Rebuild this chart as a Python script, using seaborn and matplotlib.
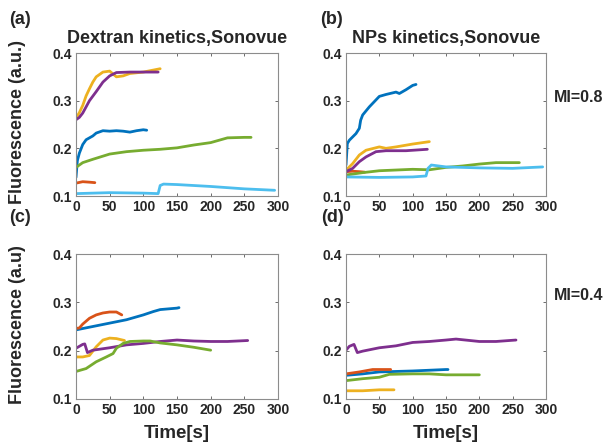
import numpy as np
import pandas as pd
import matplotlib
matplotlib.use("Agg")
import matplotlib.pyplot as plt
import seaborn as sns

# ---------------- data ----------------
# Panel (a): Dextran kinetics, MI=0.8
a_blue_t = [0, 2, 5, 10, 15, 20, 25, 30, 40, 50, 60, 70, 80, 90, 100, 105]
a_blue_y = [0.139, 0.174, 0.190, 0.208, 0.218, 0.222, 0.226, 0.232, 0.237, 0.236, 0.237, 0.236, 0.234, 0.237, 0.239, 0.238]
a_orange_t = [0, 10, 20, 28]
a_orange_y = [0.127, 0.130, 0.129, 0.128]
a_yellow_t = [0, 5, 10, 15, 20, 25, 30, 40, 50, 60, 70, 80, 100, 125]
a_yellow_y = [0.263, 0.275, 0.290, 0.310, 0.325, 0.339, 0.350, 0.360, 0.362, 0.350, 0.352, 0.357, 0.360, 0.367]
a_purple_t = [0, 5, 10, 20, 30, 40, 50, 60, 80, 100, 122]
a_purple_y = [0.260, 0.265, 0.274, 0.300, 0.319, 0.339, 0.352, 0.359, 0.360, 0.360, 0.360]
a_green_t = [0, 10, 25, 50, 75, 100, 125, 150, 175, 200, 225, 250, 260]
a_green_y = [0.160, 0.170, 0.177, 0.188, 0.193, 0.196, 0.198, 0.201, 0.207, 0.212, 0.222, 0.223, 0.223]
a_cyan_t = [0, 50, 100, 122, 125, 130, 150, 200, 250, 295]
a_cyan_y = [0.105, 0.107, 0.106, 0.105, 0.122, 0.125, 0.124, 0.120, 0.115, 0.112]

# Panel (b): NPs kinetics, MI=0.8
b_blue_t = [0, 2, 5, 10, 15, 20, 22, 25, 35, 50, 60, 75, 80, 90, 100, 105]
b_blue_y = [0.165, 0.210, 0.217, 0.224, 0.231, 0.242, 0.259, 0.270, 0.287, 0.309, 0.313, 0.318, 0.315, 0.323, 0.332, 0.334]
b_orange_t = [0, 10, 20, 28]
b_orange_y = [0.151, 0.152, 0.151, 0.150]
b_yellow_t = [0, 10, 20, 30, 50, 60, 75, 100, 125]
b_yellow_y = [0.154, 0.168, 0.186, 0.196, 0.203, 0.200, 0.203, 0.209, 0.214]
b_purple_t = [0, 10, 20, 30, 45, 60, 90, 122]
b_purple_y = [0.151, 0.158, 0.172, 0.182, 0.193, 0.195, 0.195, 0.198]
b_green_t = [0, 25, 50, 100, 125, 150, 175, 200, 225, 260]
b_green_y = [0.144, 0.149, 0.153, 0.156, 0.155, 0.160, 0.163, 0.167, 0.170, 0.170]
b_cyan_t = [0, 50, 100, 120, 123, 128, 150, 200, 250, 295]
b_cyan_y = [0.140, 0.139, 0.140, 0.142, 0.158, 0.165, 0.161, 0.159, 0.158, 0.161]

# Panel (c): Dextran kinetics, MI=0.4
c_blue_t = [0, 25, 50, 75, 100, 115, 125, 150, 153]
c_blue_y = [0.243, 0.250, 0.257, 0.264, 0.274, 0.281, 0.285, 0.288, 0.289]
c_orange_t = [0, 5, 10, 20, 30, 40, 50, 60, 68]
c_orange_y = [0.246, 0.247, 0.255, 0.267, 0.274, 0.278, 0.280, 0.280, 0.274]
c_yellow_t = [0, 10, 20, 30, 40, 50, 60, 72]
c_yellow_y = [0.187, 0.187, 0.190, 0.208, 0.222, 0.226, 0.225, 0.221]
c_purple_t = [0, 10, 13, 17, 25, 50, 75, 100, 125, 150, 175, 200, 225, 255]
c_purple_y = [0.205, 0.213, 0.214, 0.196, 0.201, 0.206, 0.212, 0.215, 0.219, 0.222, 0.220, 0.219, 0.219, 0.221]
c_green_t = [0, 15, 30, 45, 55, 60, 70, 80, 100, 110, 125, 150, 175, 200]
c_green_y = [0.157, 0.163, 0.177, 0.187, 0.194, 0.205, 0.215, 0.219, 0.220, 0.220, 0.216, 0.212, 0.207, 0.201]

# Panel (d): NPs kinetics, MI=0.4
d_blue_t = [0, 25, 50, 75, 100, 150, 153]
d_blue_y = [0.149, 0.152, 0.156, 0.157, 0.158, 0.161, 0.161]
d_orange_t = [0, 20, 40, 60, 67]
d_orange_y = [0.152, 0.156, 0.161, 0.161, 0.161]
d_yellow_t = [0, 25, 50, 72]
d_yellow_y = [0.117, 0.117, 0.119, 0.119]
d_purple_t = [0, 5, 12, 17, 25, 50, 75, 100, 125, 150, 165, 200, 225, 255]
d_purple_y = [0.201, 0.209, 0.213, 0.196, 0.199, 0.206, 0.210, 0.217, 0.219, 0.222, 0.224, 0.219, 0.219, 0.222]
d_green_t = [0, 25, 50, 65, 100, 125, 150, 200]
d_green_y = [0.138, 0.142, 0.145, 0.151, 0.152, 0.152, 0.150, 0.150]

x_ticks = [0, 50, 100, 150, 200, 250, 300]
y_ticks = [0.1, 0.2, 0.3, 0.4]
y_tick_labels = ["0.1", "0.2", "0.3", "0.4"]

colors = {"blue": "#0072BD", "orange": "#D95319", "yellow": "#EDB120",
          "purple": "#7E2F8E", "green": "#77AC30", "cyan": "#4DBEEE"}

panels = {
    "a": [("blue", a_blue_t, a_blue_y), ("orange", a_orange_t, a_orange_y),
          ("yellow", a_yellow_t, a_yellow_y), ("purple", a_purple_t, a_purple_y),
          ("green", a_green_t, a_green_y), ("cyan", a_cyan_t, a_cyan_y)],
    "b": [("blue", b_blue_t, b_blue_y), ("orange", b_orange_t, b_orange_y),
          ("yellow", b_yellow_t, b_yellow_y), ("purple", b_purple_t, b_purple_y),
          ("green", b_green_t, b_green_y), ("cyan", b_cyan_t, b_cyan_y)],
    "c": [("blue", c_blue_t, c_blue_y), ("orange", c_orange_t, c_orange_y),
          ("yellow", c_yellow_t, c_yellow_y), ("purple", c_purple_t, c_purple_y),
          ("green", c_green_t, c_green_y)],
    "d": [("blue", d_blue_t, d_blue_y), ("orange", d_orange_t, d_orange_y),
          ("yellow", d_yellow_t, d_yellow_y), ("purple", d_purple_t, d_purple_y),
          ("green", d_green_t, d_green_y)],
}

# ---------------- style ----------------
sns.set_theme(style="ticks")
plt.rcParams["font.family"] = ["Liberation Sans", "DejaVu Sans"]
plt.rcParams["font.weight"] = "bold"
plt.rcParams["axes.labelweight"] = "bold"
plt.rcParams["axes.titleweight"] = "bold"

W, H = 608, 445
fig = plt.figure(figsize=(W / 100, H / 100), dpi=100)

boxes = {  # left, top, right, bottom in pixels
    "a": (76, 53, 278, 196),
    "b": (346, 53, 546, 196),
    "c": (76, 254, 278, 399),
    "d": (346, 254, 546, 399),
}

axes = {}
for key, (l, t, r, b) in boxes.items():
    ax = fig.add_axes([l / W, 1 - b / H, (r - l) / W, (b - t) / H])
    axes[key] = ax
    rows = []
    for name, tt, yy in panels[key]:
        for i, (xv, yv) in enumerate(zip(tt, yy)):
            rows.append({"series": name, "t": xv, "y": yv, "i": i})
    df = pd.DataFrame(rows)
    for name, _, _ in panels[key]:
        sns.lineplot(data=df[df["series"] == name], x="t", y="y", color=colors[name],
                     linewidth=2.0, sort=False, legend=False, ax=ax, estimator=None)
    ax.set_xlim(0, 300)
    ax.set_ylim(0.1, 0.4)
    ax.set_xticks(x_ticks)
    ax.set_xticklabels([str(v) for v in x_ticks])
    ax.set_yticks(y_ticks)
    ax.set_yticklabels(y_tick_labels)
    ax.tick_params(direction="in", length=2.5, width=0.6, color="#555555",
                   labelsize=10, pad=3, top=True, right=True)
    for lab in ax.get_xticklabels() + ax.get_yticklabels():
        lab.set_fontweight("bold")
    for sp in ax.spines.values():
        sp.set_color("#8c8c8c")
        sp.set_linewidth(0.8)
    ax.set_xlabel("")
    ax.set_ylabel("")

axes["a"].set_title("Dextran kinetics,Sonovue", fontsize=13, fontweight="bold", pad=7)
axes["b"].set_title("NPs kinetics,Sonovue", fontsize=13, fontweight="bold", pad=7)
axes["c"].set_xlabel("Time[s]", fontsize=13.5, fontweight="bold", labelpad=6)
axes["d"].set_xlabel("Time[s]", fontsize=13.5, fontweight="bold", labelpad=6)

fig.text(18 / W, 1 - 122 / H, "Fluorescence (a.u.)", rotation=90, ha="center", va="center",
         fontsize=13, fontweight="bold")
fig.text(18 / W, 1 - 325 / H, "Fluorescence (a.u)", rotation=90, ha="center", va="center",
         fontsize=13, fontweight="bold")

for lab, x, y in [("(a)", 9, 20), ("(b)", 320, 20), ("(c)", 9, 218), ("(d)", 321, 218)]:
    fig.text(x / W, 1 - y / H, lab, ha="left", va="center", fontsize=13, fontweight="bold")

fig.text(554 / W, 1 - 97 / H, "MI=0.8", ha="left", va="center", fontsize=11.5, fontweight="bold")
fig.text(554 / W, 1 - 296 / H, "MI=0.4", ha="left", va="center", fontsize=11.5, fontweight="bold")

fig.savefig("out.png", dpi=100, facecolor="white")
